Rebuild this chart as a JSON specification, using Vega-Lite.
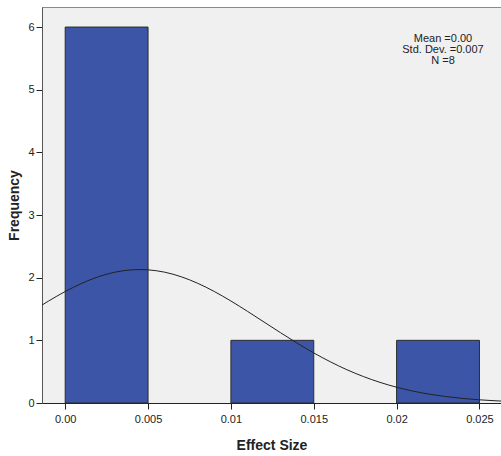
{
  "$schema": "https://vega.github.io/schema/vega-lite/v6.json",
  "autosize": "none",
  "width": 459,
  "height": 396,
  "padding": {"left": 42, "top": 7, "right": 0, "bottom": 53},
  "background": "white",
  "config": {
    "view": {"fill": "#f0f0f0", "stroke": "#8a8a8a", "strokeWidth": 1},
    "font": "Liberation Sans"
  },
  "datasets": {
    "bars": [
      {"start": 0.0, "end": 0.005, "count": 6},
      {"start": 0.005, "end": 0.01, "count": 0},
      {"start": 0.01, "end": 0.015, "count": 1},
      {"start": 0.015, "end": 0.02, "count": 0},
      {"start": 0.02, "end": 0.025, "count": 1}
    ],
    "curve": [
      {"x": -0.0014, "y": 1.563},
      {"x": -0.001, "y": 1.628},
      {"x": 0.0, "y": 1.779},
      {"x": 0.001, "y": 1.91},
      {"x": 0.002, "y": 2.015},
      {"x": 0.003, "y": 2.088},
      {"x": 0.004, "y": 2.125},
      {"x": 0.0045, "y": 2.13},
      {"x": 0.005, "y": 2.125},
      {"x": 0.006, "y": 2.088},
      {"x": 0.007, "y": 2.015},
      {"x": 0.008, "y": 1.91},
      {"x": 0.009, "y": 1.779},
      {"x": 0.01, "y": 1.628},
      {"x": 0.011, "y": 1.463},
      {"x": 0.012, "y": 1.292},
      {"x": 0.013, "y": 1.121},
      {"x": 0.014, "y": 0.955},
      {"x": 0.015, "y": 0.799},
      {"x": 0.016, "y": 0.658},
      {"x": 0.017, "y": 0.531},
      {"x": 0.018, "y": 0.422},
      {"x": 0.019, "y": 0.329},
      {"x": 0.02, "y": 0.252},
      {"x": 0.021, "y": 0.189},
      {"x": 0.022, "y": 0.14},
      {"x": 0.023, "y": 0.102},
      {"x": 0.024, "y": 0.0725},
      {"x": 0.025, "y": 0.0508},
      {"x": 0.026, "y": 0.035},
      {"x": 0.0263, "y": 0.031}
    ],
    "stats": [
      {"label": "Mean =0.00\nStd. Dev. =0.007\nN =8"}
    ]
  },
  "layer": [
    {
      "data": {"name": "bars"},
      "transform": [{"filter": "datum.count > 0"}],
      "mark": {"type": "rect", "fill": "#3d55a6", "stroke": "#2b2b2b", "strokeWidth": 1},
      "encoding": {
        "x": {
          "field": "start",
          "type": "quantitative",
          "scale": {"domain": [-0.0014, 0.0263], "nice": false, "zero": false},
          "axis": {
            "values": [0, 0.005, 0.01, 0.015, 0.02, 0.025],
            "labelExpr": "datum.value == 0 ? '0.00' : format(datum.value, '~g')",
            "title": "Effect Size",
            "titleFont": "Liberation Sans",
            "titleFontSize": 14,
            "titleFontWeight": "bold",
            "titleColor": "#222",
            "titlePadding": 14,
            "labelFontSize": 11,
            "labelColor": "#222",
            "labelPadding": 4,
            "tickSize": 6,
            "tickColor": "#222",
            "domainColor": "#222",
            "grid": false
          }
        },
        "x2": {"field": "end"},
        "y": {
          "field": "count",
          "type": "quantitative",
          "scale": {"domain": [0, 6.32], "nice": false},
          "axis": {
            "values": [0, 1, 2, 3, 4, 5, 6],
            "format": "d",
            "title": "Frequency",
            "titleFont": "Liberation Sans",
            "titleFontSize": 14,
            "titleFontWeight": "bold",
            "titleColor": "#222",
            "titlePadding": 6,
            "labelFontSize": 11,
            "labelColor": "#222",
            "labelPadding": 2,
            "tickSize": 6,
            "tickColor": "#222",
            "domainColor": "#555",
            "grid": false
          }
        },
        "y2": {"datum": 0}
      }
    },
    {
      "data": {"name": "curve"},
      "mark": {"type": "line", "color": "#222", "strokeWidth": 1, "interpolate": "monotone", "clip": true},
      "encoding": {
        "x": {"field": "x", "type": "quantitative"},
        "y": {"field": "y", "type": "quantitative"}
      }
    },
    {
      "data": {"name": "stats"},
      "mark": {"type": "text", "align": "center", "baseline": "top", "lineBreak": "\n", "fontSize": 11, "color": "#222", "lineHeight": 11},
      "encoding": {
        "x": {"datum": 0.0228, "type": "quantitative"},
        "y": {"datum": 5.9, "type": "quantitative"},
        "text": {"field": "label"}
      }
    }
  ]
}
